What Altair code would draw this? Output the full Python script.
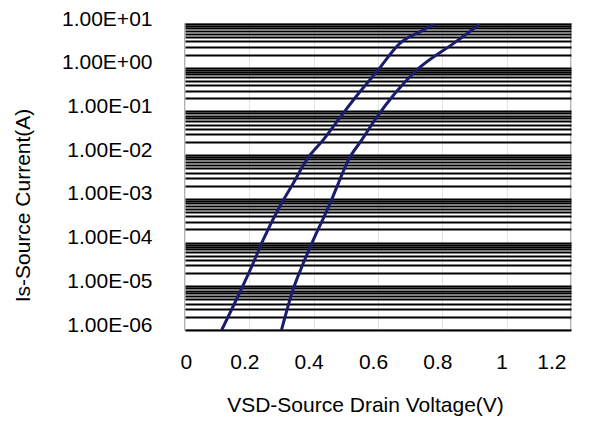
import altair as alt
import pandas as pd

vsd_a = [0.114, 0.176, 0.212, 0.243, 0.300, 0.337, 0.378, 0.429, 0.477, 0.540, 0.596, 0.668, 0.740, 0.775]
is_a = [1.0e-6, 8.9e-6, 3.4e-5, 1.15e-4, 7.9e-4, 2.3e-3, 7.8e-3, 2.2e-2, 6.5e-2, 0.26, 0.81, 3.6, 7.2, 10.0]

vsd_b = [0.300, 0.337, 0.368, 0.399, 0.451, 0.477, 0.508, 0.549, 0.591, 0.653, 0.715, 0.835, 0.891, 0.917]
is_b = [1.0e-6, 8.9e-6, 3.4e-5, 1.15e-4, 7.9e-4, 2.3e-3, 7.8e-3, 2.2e-2, 6.5e-2, 0.26, 0.81, 3.6, 7.2, 10.0]

x_ticks = [0, 0.2, 0.4, 0.6, 0.8, 1.0, 1.2]
decades = [1e-6, 1e-5, 1e-4, 1e-3, 1e-2, 1e-1, 1e0, 1e1]
y_grid = sorted(set([m * d for d in decades[:-1] for m in range(1, 10)] + [decades[-1]]))

df = pd.concat([
    pd.DataFrame({"V": vsd_a, "I": is_a, "curve": "a"}),
    pd.DataFrame({"V": vsd_b, "I": is_b, "curve": "b"}),
])

FONT = "Liberation Sans"
lg = "log(datum.value)/LN10"
label_expr = (
    f"abs({lg} - round({lg})) < 0.001 ? "
    f"('1.00E' + (round({lg}) < 0 ? '-' : '+') + (abs(round({lg})) < 10 ? '0' : '') + abs(round({lg}))) : ''"
)

chart = alt.Chart(df).mark_line(color="#1c1c6e", strokeWidth=3, clip=True, interpolate="monotone").encode(
    x=alt.X("V:Q",
            scale=alt.Scale(domain=[0, 1.2], nice=False),
            axis=alt.Axis(values=x_ticks, format="~g", title="VSD-Source Drain Voltage(V)",
                          grid=True, gridColor="#e2e2e2", gridWidth=1,
                          domain=False, ticks=False, labelPadding=21, labelOffset=-5,
                          labelFont=FONT, labelFontSize=21, labelColor="black",
                          titleFont=FONT, titleFontSize=21, titleFontWeight="normal", titleColor="black",
                          titleX=180, titleY=75, titleBaseline="middle", titleAlign="center")),
    y=alt.Y("I:Q",
            scale=alt.Scale(type="log", domain=[1e-6, 10], nice=False),
            axis=alt.Axis(values=y_grid, labelExpr=label_expr, labelOverlap=False,
                          title="Is-Source Current(A)",
                          grid=True, gridColor="black", gridWidth=1.8,
                          domain=False, ticks=False, labelPadding=33, labelOffset=-5,
                          labelFont=FONT, labelFontSize=21, labelColor="black",
                          titleFont=FONT, titleFontSize=21, titleFontWeight="normal", titleColor="black",
                          titleX=-162, titleY=181, titleBaseline="middle", titleAlign="center")),
    detail="curve:N",
    order="V:Q",
).properties(
    width=386, height=306,
    autosize=alt.AutoSizeParams(type="none"),
    padding={"left": 177, "top": 16, "right": 19, "bottom": 88},
).configure_view(stroke="#999999", strokeWidth=1.5)

chart.save("out.html", embed_options={"renderer": "svg", "actions": False})
